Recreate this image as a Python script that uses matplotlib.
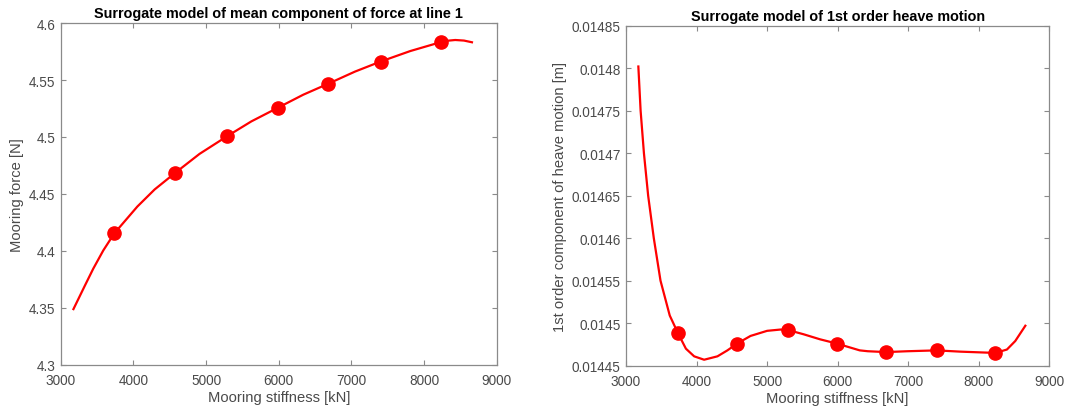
'''
surrogate model plots: mean mooring force and 1st order heave vs stiffness
'''

import matplotlib
matplotlib.use('Agg')
import matplotlib.pyplot as plt

plt.rcParams['font.family'] = ['Liberation Sans', 'DejaVu Sans']

# sampled design points (mooring stiffness, kN)
design_stiffness = [3738, 4575, 5293, 5990, 6684, 7403, 8235]
force_samples = [4.4155, 4.4685, 4.5008, 4.5257, 4.5468, 4.5662, 4.5833]
heave_samples = [0.014488, 0.014476, 0.014492, 0.014476, 0.014466, 0.014468, 0.014465]

# surrogate curves
force_curve_x = [3175, 3334, 3448, 3586, 3738, 4055, 4293, 4575, 4911, 5293,
                 5624, 5990, 6338, 6684, 7051, 7403, 7811, 8235, 8330, 8430,
                 8550, 8660]
force_curve_y = [4.3490, 4.3698, 4.3845, 4.4005, 4.4155, 4.4390, 4.4540, 4.4685,
                 4.4852, 4.5008, 4.5137, 4.5257, 4.5371, 4.5468, 4.5574, 4.5662,
                 4.5754, 4.5833, 4.5845, 4.5851, 4.5846, 4.5831]

heave_curve_x = [3175, 3207, 3254, 3314, 3394, 3489, 3620, 3738, 3849, 3966,
                 4107, 4296, 4437, 4575, 4765, 5000, 5187, 5293, 5515, 5751,
                 5990, 6313, 6427, 6684, 6990, 7403, 7742, 8235, 8399, 8517, 8660]
heave_curve_y = [0.014802, 0.014750, 0.014700, 0.014650, 0.014600, 0.014550,
                 0.014509, 0.014488, 0.014470, 0.014461, 0.014457, 0.014461,
                 0.014468, 0.014476, 0.014485, 0.014491, 0.0144925, 0.014492,
                 0.014487, 0.014481, 0.014476, 0.014468, 0.014467, 0.014466,
                 0.014467, 0.014468, 0.0144665, 0.014465, 0.014469, 0.014479,
                 0.014497]

x_ticks = [3000, 4000, 5000, 6000, 7000, 8000, 9000]
force_ticks = [4.3, 4.35, 4.4, 4.45, 4.5, 4.55, 4.6]
force_tick_labels = ['4.3', '4.35', '4.4', '4.45', '4.5', '4.55', '4.6']
heave_ticks = [0.01445, 0.0145, 0.01455, 0.0146, 0.01465, 0.0147, 0.01475, 0.0148, 0.01485]
heave_tick_labels = ['0.01445', '0.0145', '0.01455', '0.0146', '0.01465',
                     '0.0147', '0.01475', '0.0148', '0.01485']

LINE_RED = '#ff0000'
TEXT_GREY = '#4a4a4a'
AXIS_GREY = '#8a8a8a'


def style_axes(ax, title, ylabel, yticks, ytick_labels):
    ax.set_xlim(3000, 9000)
    ax.set_ylim(yticks[0], yticks[-1])
    ax.set_xticks(x_ticks)
    ax.set_yticks(yticks)
    ax.set_yticklabels(ytick_labels)
    ax.tick_params(direction='in', top=True, right=True, length=3.5, width=0.8,
                   color=AXIS_GREY, labelcolor=TEXT_GREY, labelsize=9.8)
    ax.tick_params(axis='x', pad=6)
    ax.tick_params(axis='y', pad=4)
    for sp in ax.spines.values():
        sp.set_color(AXIS_GREY)
        sp.set_linewidth(0.9)
    ax.set_title(title, fontsize=10.4, fontweight='bold', color='black', pad=4)
    ax.set_xlabel('Mooring stiffness [kN]', fontsize=10.6, color=TEXT_GREY, labelpad=2)
    ax.set_ylabel(ylabel, fontsize=10.6, color=TEXT_GREY, labelpad=3)


fig = plt.figure(figsize=(10.69, 4.14), dpi=100)
ax1 = fig.add_axes([0.0568, 0.116, 0.4078, 0.826])
ax2 = fig.add_axes([0.5856, 0.1143, 0.3960, 0.8212])

ax1.plot(force_curve_x, force_curve_y, color=LINE_RED, lw=1.6)
ax1.plot(design_stiffness, force_samples, 'o', color=LINE_RED, ms=9.5)
style_axes(ax1, 'Surrogate model of mean component of force at line 1',
           'Mooring force [N]', force_ticks, force_tick_labels)

ax2.plot(heave_curve_x, heave_curve_y, color=LINE_RED, lw=1.6)
ax2.plot(design_stiffness, heave_samples, 'o', color=LINE_RED, ms=9.5)
style_axes(ax2, 'Surrogate model of 1st order heave motion',
           '1st order component of heave motion [m]', heave_ticks, heave_tick_labels)

fig.savefig('out.png', dpi=100)
